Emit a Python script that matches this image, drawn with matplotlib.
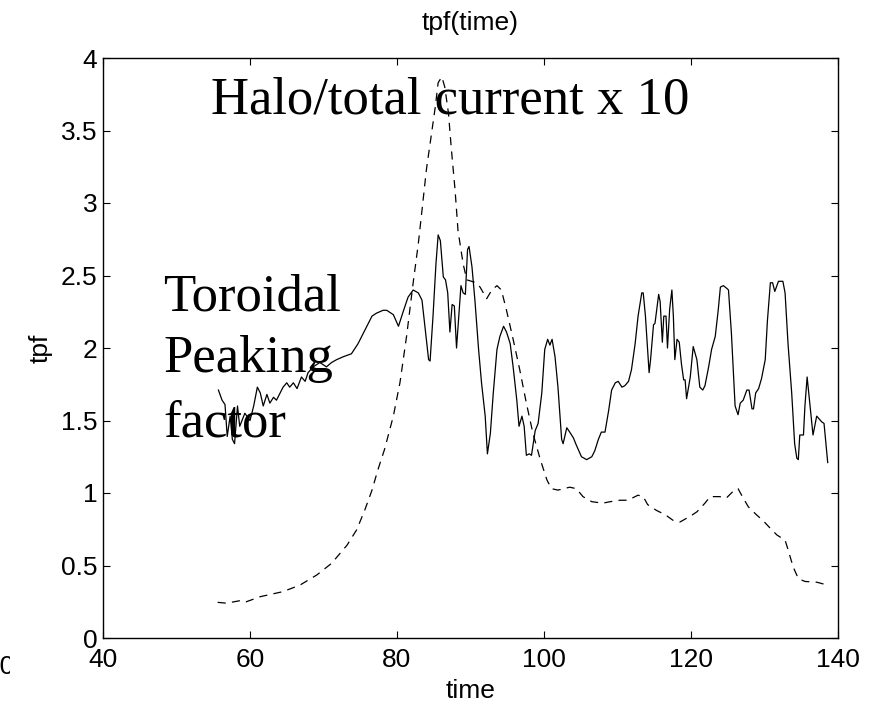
import matplotlib
matplotlib.use("Agg")
import matplotlib.pyplot as plt
from matplotlib.transforms import Bbox

# ---- data ----
tpf_time = [55.7, 56.2, 56.6, 56.9, 57.3, 57.6, 57.9, 58.3, 58.6, 59.3, 60.0, 60.5, 61.0, 61.4,
            61.8, 62.3, 62.7, 63.2, 63.6, 64.1, 64.5, 65.0, 65.4, 65.9, 66.4, 67.0, 67.5, 67.9,
            68.6, 69.5, 70.4, 71.1, 71.8, 72.7, 73.8, 74.7, 75.6, 76.6, 77.2, 78.1, 78.6, 79.5,
            80.2, 80.9, 81.5, 82.2, 82.9, 83.4, 83.8, 84.3, 84.5, 84.9, 85.3, 85.6, 85.9, 86.3,
            86.6, 86.9, 87.2, 87.5, 87.8, 88.1, 88.5, 88.7, 89.0, 89.3, 89.6, 89.8, 90.2, 90.6,
            91.1, 91.5, 92.0, 92.3, 92.7, 93.1, 93.6, 94.0, 94.5, 94.9, 95.4, 95.8, 96.3, 96.6,
            97.0, 97.3, 97.6, 98.0, 98.3, 98.8, 99.2, 99.7, 100.1, 100.5, 100.8, 101.1, 101.5,
            101.9, 102.4, 102.6, 103.1, 103.5, 104.0, 104.4, 105.1, 105.8, 106.5, 106.9, 107.4,
            107.8, 108.3, 108.8, 109.2, 109.7, 110.1, 110.6, 111.0, 111.5, 111.9, 112.4, 112.8,
            113.3, 113.5, 113.8, 114.3, 114.5, 114.9, 115.1, 115.6, 115.8, 116.1, 116.3, 116.6,
            116.8, 117.1, 117.4, 117.6, 117.8, 118.1, 118.4, 118.7, 119.0, 119.2, 119.4, 119.9,
            120.3, 120.8, 121.2, 121.6, 121.9, 122.4, 122.8, 123.3, 123.7, 124.0, 124.4, 124.9,
            125.1, 125.5, 126.0, 126.4, 126.7, 127.1, 127.6, 127.9, 128.3, 128.5, 128.8, 129.2,
            129.6, 130.1, 130.4, 130.8, 131.1, 131.4, 131.9, 132.5, 132.8, 133.2, 133.7, 134.1,
            134.4, 134.6, 134.8, 135.3, 135.5, 135.8, 136.2, 136.6, 137.1, 137.8, 138.1, 138.6]
tpf_values = [1.71, 1.64, 1.61, 1.39, 1.53, 1.37, 1.34, 1.60, 1.46, 1.55, 1.50, 1.60, 1.73, 1.69,
              1.60, 1.68, 1.62, 1.66, 1.64, 1.69, 1.73, 1.76, 1.73, 1.76, 1.72, 1.80, 1.77, 1.83,
              1.87, 1.90, 1.87, 1.90, 1.92, 1.94, 1.96, 2.03, 2.12, 2.22, 2.24, 2.26, 2.26, 2.23,
              2.15, 2.26, 2.35, 2.40, 2.38, 2.33, 2.15, 1.92, 1.91, 2.22, 2.58, 2.78, 2.74, 2.49,
              2.47, 2.38, 2.11, 2.30, 2.29, 2.00, 2.29, 2.43, 2.38, 2.37, 2.68, 2.70, 2.56, 2.33,
              1.99, 1.76, 1.53, 1.27, 1.41, 1.69, 1.99, 2.08, 2.15, 2.11, 2.03, 1.87, 1.64, 1.46,
              1.53, 1.46, 1.26, 1.27, 1.26, 1.43, 1.48, 1.69, 1.99, 2.06, 2.02, 2.06, 1.94,
              1.73, 1.37, 1.34, 1.45, 1.42, 1.38, 1.33, 1.25, 1.23, 1.25, 1.29, 1.37,
              1.42, 1.42, 1.57, 1.71, 1.76, 1.77, 1.73, 1.74, 1.77, 1.85, 2.03, 2.22,
              2.38, 2.38, 2.22, 1.83, 1.92, 2.16, 2.17, 2.37, 2.32, 2.04, 2.22, 2.22,
              2.00, 2.27, 2.40, 2.22, 1.92, 2.06, 2.04, 1.89, 1.78, 1.78, 1.65, 1.80,
              2.01, 1.92, 1.73, 1.71, 1.74, 1.87, 1.99, 2.08, 2.26, 2.42, 2.43, 2.41,
              2.40, 2.10, 1.60, 1.54, 1.62, 1.64, 1.71, 1.71, 1.58, 1.58, 1.69, 1.72,
              1.79, 1.92, 2.19, 2.45, 2.45, 2.39, 2.46, 2.46, 2.38, 2.03, 1.69, 1.34,
              1.24, 1.23, 1.40, 1.40, 1.60, 1.80, 1.60, 1.40, 1.53, 1.49, 1.48, 1.21]

halo_time = [55.6, 56.8, 58.9, 59.5, 61.4, 64.5, 66.8, 69.1, 71.1, 73.2, 74.5, 75.6, 76.6, 77.4,
             78.3, 79.5, 80.4, 81.3, 82.2, 82.9, 83.4, 84.0, 84.7, 85.2, 85.6, 86.1, 86.5, 87.0,
             87.4, 87.9, 88.3, 89.0, 89.5, 90.8, 91.3, 92.2, 92.9, 93.6, 94.2, 94.9, 95.8, 96.7,
             97.6, 98.5, 99.5, 100.4, 101.0, 101.9, 103.5, 104.4, 105.3, 106.5, 108.0, 109.0,
             110.3, 111.4, 112.8, 113.5, 114.1, 115.3, 116.5, 117.6, 118.5, 119.9, 120.8, 121.9,
             122.6, 123.9, 124.8, 125.7, 126.4, 127.1, 127.8, 128.9, 129.8, 131.0, 131.7, 132.8,
             133.2, 133.9, 134.6, 135.5, 137.1, 138.2]
halo_values = [0.246, 0.24, 0.26, 0.25, 0.285, 0.32, 0.365, 0.435, 0.515, 0.64, 0.745, 0.88, 1.02, 1.16,
               1.30, 1.53, 1.76, 2.08, 2.45, 2.72, 2.95, 3.23, 3.48, 3.66, 3.83, 3.87, 3.80, 3.62,
               3.37, 3.09, 2.81, 2.58, 2.47, 2.45, 2.42, 2.34, 2.40, 2.43, 2.40, 2.26, 2.06, 1.85,
               1.62, 1.41, 1.23, 1.09, 1.03, 1.02, 1.04, 1.03, 0.975, 0.94, 0.93, 0.94,
               0.95, 0.95, 0.985, 0.975, 0.92, 0.88, 0.85, 0.81, 0.80, 0.84, 0.87, 0.93,
               0.975, 0.975, 0.965, 1.01, 1.03, 0.965, 0.905, 0.85, 0.81, 0.745, 0.71, 0.675,
               0.61, 0.49, 0.41, 0.39, 0.385, 0.37]

x_ticks = [40, 60, 80, 100, 120, 140]
y_ticks = [0, 0.5, 1, 1.5, 2, 2.5, 3, 3.5, 4]
y_tick_labels = ["0", "0.5", "1", "1.5", "2", "2.5", "3", "3.5", "4"]

# ---- figure ----
plt.rcParams['font.family'] = ['Liberation Sans', 'DejaVu Sans']
fig = plt.figure(figsize=(8.78, 7.06), dpi=100)
ax = fig.add_axes([103/878, 68/706, 735/878, 580/706])

ax.plot(tpf_time, tpf_values, color='black', lw=0.9, solid_joinstyle='round')
ax.plot(halo_time, halo_values, color='black', lw=0.9, linestyle=(0, (6.5, 5)))

ax.set_xlim(40, 140)
ax.set_ylim(0, 4)
ax.set_xticks(x_ticks)
ax.set_xticklabels([str(v) for v in x_ticks])
ax.set_yticks(y_ticks)
ax.set_yticklabels(y_tick_labels)
ax.tick_params(direction='in', length=5, width=0.8, top=True, right=True,
               labelsize=19, pad=4)
ax.tick_params(axis='x', pad=7)
for s in ax.spines.values():
    s.set_linewidth(1.0)

ax.set_title("tpf(time)", fontsize=19, pad=20)
ax.set_xlabel("time", fontsize=19, labelpad=5)
ax.set_ylabel("tpf", fontsize=19, labelpad=6)

serif = ['Liberation Serif', 'DejaVu Serif']
ax.text(54.7, 3.62, "Halo/total current x 10", family=serif, fontsize=38,
        ha='left', va='baseline')
ax.text(48.2, 2.262, "Toroidal", family=serif, fontsize=38, ha='left', va='baseline')
ax.text(48.2, 1.837, "Peaking", family=serif, fontsize=38, ha='left', va='baseline')
ax.text(48.2, 1.388, "factor", family=serif, fontsize=38, ha='left', va='baseline')

# clipped stray tick label at the far left edge
t = fig.text(-15/878, 1 - 667/706, "40", fontsize=19, ha='left', va='center')
t.set_clip_box(Bbox([[0, 0], [10, 706]]))
t.set_clip_on(True)

fig.savefig("out.png", dpi=100)
